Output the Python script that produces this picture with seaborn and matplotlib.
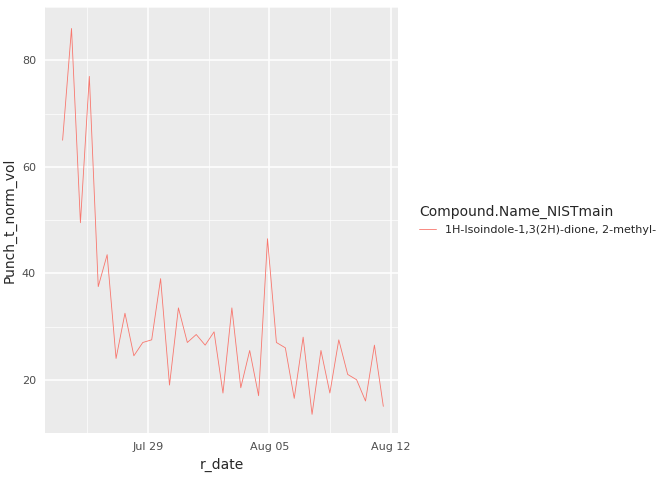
import matplotlib
matplotlib.use("Agg")
import matplotlib.pyplot as plt
import matplotlib.dates as mdates
import seaborn as sns
import pandas as pd

# readings, roughly every 12 hours from Jul 24
start = "2021-07-24 02:00"
vol = [65, 86, 49.5, 77, 37.5, 43.5, 24, 32.5, 24.5, 27, 27.5, 39, 19, 33.5,
       27, 28.5, 26.5, 29, 17.5, 33.5, 18.5, 25.5, 17, 46.5, 27, 26, 16.5, 28,
       13.5, 25.5, 17.5, 27.5, 21, 20, 16, 26.5, 15]
compound = "1H-Isoindole-1,3(2H)-dione, 2-methyl-"

df = pd.DataFrame({
    "r_date": pd.date_range(start, periods=len(vol), freq="740min"),
    "Punch_t_norm_vol": vol,
    "Compound.Name_NISTmain": compound,
})

sns.set_style("darkgrid", {"axes.facecolor": "#EBEBEB", "grid.color": "white"})
plt.rcParams["font.family"] = ["DejaVu Sans"]

fig, ax = plt.subplots(figsize=(6.72, 4.8), dpi=100)
fig.subplots_adjust(left=0.067, right=0.593, top=0.985, bottom=0.098)
sns.lineplot(data=df, x="r_date", y="Punch_t_norm_vol",
             hue="Compound.Name_NISTmain", palette=["#F8766D"],
             linewidth=0.6, ax=ax)

ax.set_xlim(pd.Timestamp("2021-07-23 01:40"), pd.Timestamp("2021-08-12 11:00"))
ax.set_ylim(10, 90)
ax.set_yticks([20, 40, 60, 80])
ax.set_xticks(pd.to_datetime(["2021-07-29", "2021-08-05", "2021-08-12"]))
ax.xaxis.set_major_formatter(mdates.DateFormatter("%b %d"))
ax.set_yticks([10, 30, 50, 70, 90], minor=True)
ax.set_xticks(pd.to_datetime(["2021-07-25 12:00", "2021-08-01 12:00", "2021-08-08 12:00"]), minor=True)
ax.grid(which="major", color="white", linewidth=1.1)
ax.grid(which="minor", color="white", linewidth=0.5)
ax.tick_params(which="both", length=3, color="#333333", labelsize=8, labelcolor="#4D4D4D")
ax.tick_params(which="minor", length=0)
for s in ax.spines.values():
    s.set_visible(False)
ax.set_xlabel("r_date", fontsize=10)
ax.set_ylabel("Punch_t_norm_vol", fontsize=10)

leg = ax.legend(title="Compound.Name_NISTmain", loc="center left",
                bbox_to_anchor=(1.03, 0.5), frameon=False, fontsize=8,
                title_fontsize=10, handlelength=1.5)
leg._legend_box.align = "left"

fig.savefig("out.png", dpi=100)
